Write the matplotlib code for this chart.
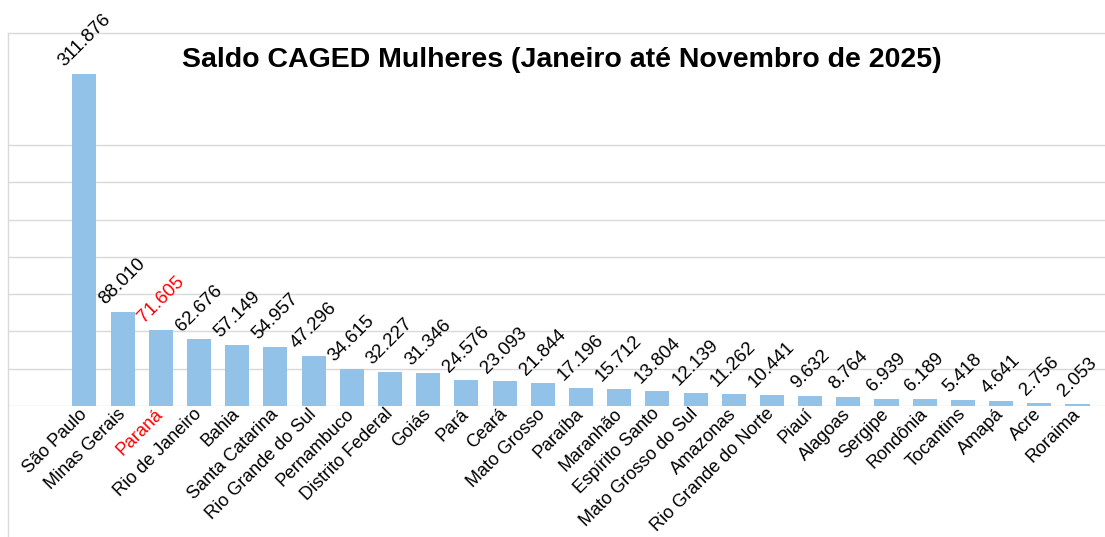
import matplotlib
matplotlib.use("Agg")
import matplotlib.pyplot as plt
from matplotlib.lines import Line2D

states = ["São Paulo", "Minas Gerais", "Paraná", "Rio de Janeiro", "Bahia",
          "Santa Catarina", "Rio Grande do Sul", "Pernambuco", "Distrito Federal",
          "Goiás", "Pará", "Ceará", "Mato Grosso", "Paraíba", "Maranhão",
          "Espírito Santo", "Mato Grosso do Sul", "Amazonas", "Rio Grande do Norte",
          "Piauí", "Alagoas", "Sergipe", "Rondônia", "Tocantins", "Amapá",
          "Acre", "Roraima"]
saldo = [311876, 88010, 71605, 62676, 57149, 54957, 47296, 34615, 32227,
         31346, 24576, 23093, 21844, 17196, 15712, 13804, 12139, 11262, 10441,
         9632, 8764, 6939, 6189, 5418, 4641, 2756, 2053]
highlight = "Paraná"
title = "Saldo CAGED Mulheres (Janeiro até Novembro de 2025)"

plt.rcParams['font.family'] = ['Liberation Sans', 'DejaVu Sans']

W, H = 1105, 537
fig = plt.figure(figsize=(W / 100, H / 100), dpi=100)
fig.patch.set_facecolor('white')

left_px, right_px, top_px, base_px = 8, 1105, 33, 406
ax = fig.add_axes([left_px / W, 1 - base_px / H,
                   (right_px - left_px) / W, (base_px - top_px) / H])

x = list(range(len(states)))
bar_color = '#92C2E8'
ax.bar(x, saldo, width=0.63, color=bar_color, zorder=3)

ax.set_xlim(-2.0, len(states) - 1 + 0.72)
ax.set_ylim(0, 350000)
ax.set_yticks([35000 * k for k in range(0, 8)])
ax.yaxis.grid(True, color='#D9D9D9', linewidth=1.0, zorder=0)
ax.tick_params(axis='y', left=False, labelleft=False)
ax.tick_params(axis='x', length=0, pad=4)

for s in ['left', 'right', 'bottom']:
    ax.spines[s].set_visible(False)
ax.spines['top'].set_color('#D9D9D9')
ax.spines['top'].set_linewidth(1.0)

ax.set_xticks(x)
ax.set_xticklabels(states, rotation=45, ha='right', va='center',
                   rotation_mode='anchor', fontsize=13)
for lbl in ax.get_xticklabels():
    lbl.set_color('red' if lbl.get_text() == highlight else 'black')

for xi, name, v in zip(x, states, saldo):
    txt = f"{v:,}".replace(',', '.')
    ax.annotate(txt, (xi, v), xytext=(0, 3), textcoords='offset points',
                ha='center', va='bottom', rotation=45, fontsize=13.5,
                color='red' if name == highlight else 'black')

fig.text(562 / W, 1 - 60 / H, title, ha='center', va='center',
         fontsize=20.5, fontweight='bold', color='black')

# chart area border (left and top)
fig.add_artist(Line2D([left_px / W, left_px / W], [0, 1 - top_px / H],
                      transform=fig.transFigure, color='#D9D9D9', linewidth=1.0))

fig.savefig('out.png', dpi=100, facecolor='white')
